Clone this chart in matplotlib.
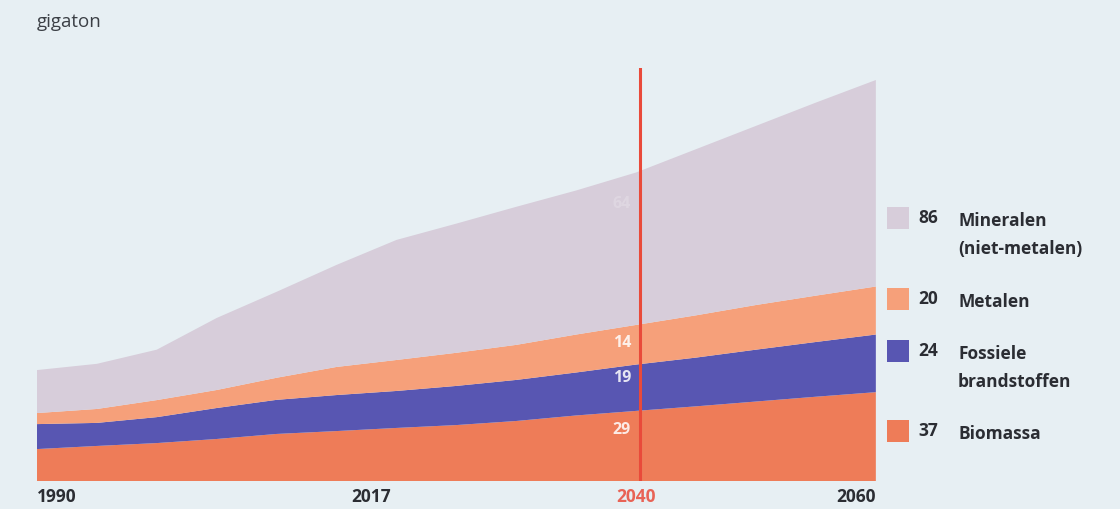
import matplotlib

matplotlib.use("Agg")
import matplotlib.pyplot as plt
from matplotlib.patches import Rectangle

years = [1990, 1995, 2000, 2005, 2010, 2015, 2020, 2025, 2030, 2035, 2040, 2045, 2050, 2055, 2060]
biomass = [13.3, 14.6, 15.8, 17.5, 19.6, 20.8, 22.1, 23.3, 25.0, 27.3, 29.2, 31.1, 33.1, 35.1, 37.0]
fossil = [10.4, 9.6, 10.8, 12.9, 14.2, 15.0, 15.4, 16.3, 17.1, 17.9, 19.3, 20.3, 21.6, 22.8, 24.0]
metals = [4.6, 5.8, 7.1, 7.5, 9.2, 11.7, 12.9, 13.8, 14.6, 15.8, 16.5, 17.6, 18.6, 19.3, 20.0]
minerals = [17.9, 18.8, 21.0, 30.0, 35.8, 42.5, 50.0, 53.8, 57.5, 60.0, 63.5, 69.2, 74.6, 80.4, 86.0]

series_names = ["Biomassa", "Fossiele\nbrandstoffen", "Metalen", "Mineralen\n(niet-metalen)"]
series_values = [biomass, fossil, metals, minerals]
end_values = ["37", "24", "20", "86"]
labels_2040 = ["29", "19", "14", "64"]
tick_years = [1990, 2017, 2040, 2060]

colors = ["#ee7c58", "#5856b2", "#f6a07a", "#d7cdda"]
bg = "#e7eff3"
text_dark = "#2b2d33"
red = "#e94a3a"

plt.rcParams["font.family"] = ["Open Sans", "DejaVu Sans"]

fig = plt.figure(figsize=(11.2, 5.09), dpi=100, facecolor=bg)
ax = fig.add_axes([0.033, 0.055, 0.749, 0.8114])
ax.set_facecolor(bg)

ax.stackplot(years, *series_values, colors=colors, linewidth=0)
ax.set_xlim(1990, 2060)
ax.set_ylim(0, 172)
for side in ax.spines.values():
    side.set_visible(False)
ax.set_yticks([])
ax.set_xticks([])

ax.axvline(2040.35, color=red, linewidth=2.2, zorder=5)

# value labels at 2040, placed where they sit in the original (fraction of band height)
label_frac = [0.73, 0.71, 0.55, 0.79]
bottom = 0
for i, vals in enumerate(series_values):
    v = vals[years.index(2040)]
    alpha = 0.2 if i == 3 else 0.85
    ax.text(2038.8, bottom + v * label_frac[i], labels_2040[i], color="white", alpha=alpha,
            fontsize=11.5, fontweight="bold", ha="center", va="center", zorder=6)
    bottom += v

# x tick labels
for yr in tick_years:
    ha = "left" if yr == 1990 else ("right" if yr == 2060 else "center")
    col = red if yr == 2040 else text_dark
    ax.text(yr + (0.9 if yr == 2017 else 0), -3, str(yr), color=col, fontsize=12.5,
            fontweight="bold", ha=ha, va="top", alpha=0.85 if yr == 2040 else 1)

fig.text(37 / 1120, 1 - 22 / 509, "gigaton", color="#3b3f45", fontsize=13.5, ha="left", va="center")

# legend on the right
legend_rows = [
    (218, 3),
    (299, 2),
    (351, 1),
    (431, 0),
]
for ypix, idx in legend_rows:
    yf = 1 - ypix / 509
    fig.patches.append(Rectangle((887 / 1120, yf - 11 / 509), 22 / 1120, 22 / 509,
                                 transform=fig.transFigure, facecolor=colors[idx], edgecolor="none"))
    fig.text(918 / 1120, yf, end_values[idx], color=text_dark, fontsize=12.5, fontweight="bold",
             ha="left", va="center")
    fig.text(958 / 1120, yf + 6 / 509, series_names[idx], color=text_dark, fontsize=12.5,
             fontweight="bold", ha="left", va="top", linespacing=1.7)

fig.savefig("out.png", dpi=100, facecolor=bg)
